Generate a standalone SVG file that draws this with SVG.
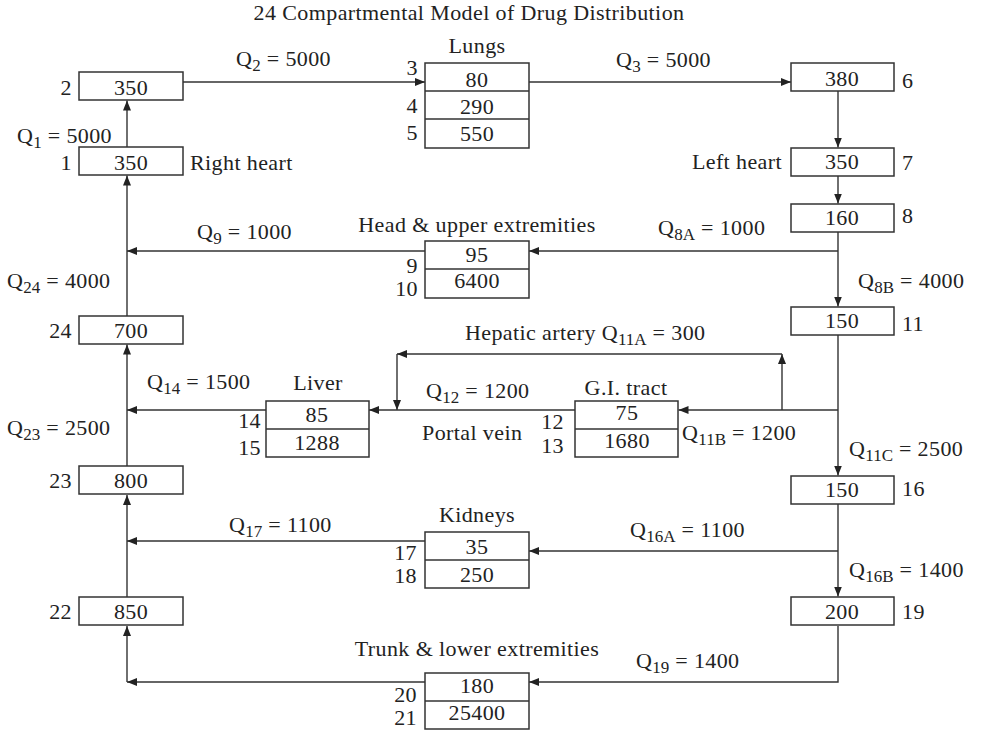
<svg xmlns="http://www.w3.org/2000/svg" width="982" height="732" viewBox="0 0 982 732">
<style>
text{font-family:"Liberation Serif","Times New Roman",serif;font-size:22px;fill:#222;letter-spacing:0.4px}
.c{text-anchor:middle}
.e{text-anchor:end}
.s{font-size:17px;letter-spacing:0}
.b,.d{fill:#fff;stroke:#333;stroke-width:1.5}
.d{fill:none}
.cn path{fill:none;stroke:#333;stroke-width:1.4;marker-end:url(#ah)}
</style>
<defs>
<marker id="ah" markerUnits="userSpaceOnUse" markerWidth="11" markerHeight="9" refX="10" refY="4" orient="auto">
<path d="M0,0 L10,4 L0,8 z" fill="#222"/>
</marker>
</defs>
<rect x="0" y="0" width="982" height="732" style="fill:#fff;stroke:none"/>
<text class="c" x="469" y="20">24 Compartmental Model of Drug Distribution</text>

<g class="cn" id="connectors">
<path d="M183,82 H425"/>
<path d="M529,82 H791"/>
<path d="M838,91 V147.5"/>
<path d="M838,176 V203.5"/>
<path d="M838,232 V306.5"/>
<path d="M838,251 H529"/>
<path d="M838,335 V475.5"/>
<path d="M838,410 H678.5"/>
<path d="M782,410 V354"/>
<path d="M782,354 H397"/>
<path d="M397,354 V410"/>
<path d="M838,504 V596.5"/>
<path d="M838,551 H529"/>
<path d="M838,626 V682 H529"/>
<path d="M425,682 H127"/>
<path d="M127,682 V626"/>
<path d="M425,541 H127"/>
<path d="M127,597 V495"/>
<path d="M127,466 V344.5"/>
<path d="M266,410 H127"/>
<path d="M575,410 H369"/>
<path d="M127,316 V175.5"/>
<path d="M425,251 H127"/>
<path d="M127,147 V100.5"/>
</g>

<g id="n2"><rect class="b" x="79" y="72" width="104" height="28"/><text class="c" x="131" y="95">350</text><text class="e" x="72" y="95">2</text></g>
<g id="n1"><rect class="b" x="79" y="147" width="104" height="28"/><text class="c" x="131" y="170">350</text><text class="e" x="72" y="170">1</text><text x="190" y="170">Right heart</text></g>
<g id="n24"><rect class="b" x="79" y="316" width="104" height="28"/><text class="c" x="131" y="338">700</text><text class="e" x="72" y="338">24</text></g>
<g id="n23"><rect class="b" x="79" y="466" width="104" height="28"/><text class="c" x="131" y="488">800</text><text class="e" x="72" y="488">23</text></g>
<g id="n22"><rect class="b" x="79" y="597" width="104" height="28"/><text class="c" x="131" y="619">850</text><text class="e" x="72" y="619">22</text></g>

<g id="lungs"><text class="c" x="477" y="53">Lungs</text>
<rect class="b" x="425" y="63" width="104" height="85"/><path class="d" d="M425,91 H529 M425,119 H529"/>
<text class="c" x="477" y="87">80</text><text class="c" x="477" y="114">290</text><text class="c" x="477" y="141">550</text>
<text class="e" x="418" y="75">3</text><text class="e" x="418" y="113">4</text><text class="e" x="418" y="140">5</text></g>

<g id="n6"><rect class="b" x="791" y="63" width="103" height="28"/><text class="c" x="842" y="86">380</text><text x="902" y="88">6</text></g>
<g id="n7"><rect class="b" x="791" y="148" width="103" height="28"/><text class="c" x="842" y="169">350</text><text x="902" y="170">7</text><text class="e" x="782" y="169">Left heart</text></g>
<g id="n8"><rect class="b" x="791" y="204" width="103" height="28"/><text class="c" x="842" y="225">160</text><text x="902" y="223">8</text></g>
<g id="n11"><rect class="b" x="791" y="307" width="103" height="28"/><text class="c" x="842" y="328">150</text><text x="902" y="331">11</text></g>
<g id="n16"><rect class="b" x="791" y="476" width="103" height="28"/><text class="c" x="842" y="497">150</text><text x="902" y="496">16</text></g>
<g id="n19"><rect class="b" x="791" y="597" width="103" height="28"/><text class="c" x="842" y="619">200</text><text x="902" y="619">19</text></g>

<g id="head"><text class="c" x="477" y="232">Head &amp; upper extremities</text>
<rect class="b" x="425" y="241" width="104" height="57"/><path class="d" d="M425,269 H529"/>
<text class="c" x="477" y="262">95</text><text class="c" x="477" y="288">6400</text>
<text class="e" x="418" y="273">9</text><text class="e" x="418" y="296">10</text></g>

<g id="liver"><text class="c" x="318" y="390">Liver</text>
<rect class="b" x="266" y="401" width="103" height="56"/><path class="d" d="M266,429 H369"/>
<text class="c" x="317" y="422">85</text><text class="c" x="317" y="450">1288</text>
<text class="e" x="261" y="428">14</text><text class="e" x="261" y="455">15</text></g>

<g id="gi"><text class="c" x="626" y="395">G.I. tract</text>
<rect class="b" x="575" y="401" width="103" height="56"/><path class="d" d="M575,429 H678"/>
<text class="c" x="627" y="420">75</text><text class="c" x="627" y="448">1680</text>
<text class="e" x="564" y="429">12</text><text class="e" x="564" y="453">13</text></g>

<g id="kidneys"><text class="c" x="477" y="522">Kidneys</text>
<rect class="b" x="425" y="532" width="104" height="56"/><path class="d" d="M425,560 H529"/>
<text class="c" x="477" y="554">35</text><text class="c" x="477" y="582">250</text>
<text class="e" x="417" y="560">17</text><text class="e" x="417" y="583">18</text></g>

<g id="trunk"><text class="c" x="477" y="656">Trunk &amp; lower extremities</text>
<rect class="b" x="425" y="673" width="104" height="56"/><path class="d" d="M425,701 H529"/>
<text class="c" x="477" y="693">180</text><text class="c" x="477" y="720">25400</text>
<text class="e" x="417" y="702">20</text><text class="e" x="417" y="725">21</text></g>

<g id="labels">
<text x="17" y="143">Q<tspan class="s" dy="5">1</tspan><tspan dy="-5"> = 5000</tspan></text>
<text x="236" y="66">Q<tspan class="s" dy="5">2</tspan><tspan dy="-5"> = 5000</tspan></text>
<text x="616" y="67">Q<tspan class="s" dy="5">3</tspan><tspan dy="-5"> = 5000</tspan></text>
<text x="658" y="235">Q<tspan class="s" dy="5">8A</tspan><tspan dy="-5"> = 1000</tspan></text>
<text x="858" y="288">Q<tspan class="s" dy="5">8B</tspan><tspan dy="-5"> = 4000</tspan></text>
<text x="197" y="239">Q<tspan class="s" dy="5">9</tspan><tspan dy="-5"> = 1000</tspan></text>
<text x="7" y="288">Q<tspan class="s" dy="5">24</tspan><tspan dy="-5"> = 4000</tspan></text>
<text x="465" y="340">Hepatic artery Q<tspan class="s" dy="5">11A</tspan><tspan dy="-5"> = 300</tspan></text>
<text x="147" y="389">Q<tspan class="s" dy="5">14</tspan><tspan dy="-5"> = 1500</tspan></text>
<text x="426" y="398">Q<tspan class="s" dy="5">12</tspan><tspan dy="-5"> = 1200</tspan></text>
<text x="422" y="440">Portal vein</text>
<text x="682" y="440">Q<tspan class="s" dy="5">11B</tspan><tspan dy="-5"> = 1200</tspan></text>
<text x="7" y="435">Q<tspan class="s" dy="5">23</tspan><tspan dy="-5"> = 2500</tspan></text>
<text x="849" y="456">Q<tspan class="s" dy="5">11C</tspan><tspan dy="-5"> = 2500</tspan></text>
<text x="229" y="532">Q<tspan class="s" dy="5">17</tspan><tspan dy="-5"> = 1100</tspan></text>
<text x="630" y="537">Q<tspan class="s" dy="5">16A</tspan><tspan dy="-5"> = 1100</tspan></text>
<text x="849" y="577">Q<tspan class="s" dy="5">16B</tspan><tspan dy="-5"> = 1400</tspan></text>
<text x="636" y="668">Q<tspan class="s" dy="5">19</tspan><tspan dy="-5"> = 1400</tspan></text>
</g>
</svg>
